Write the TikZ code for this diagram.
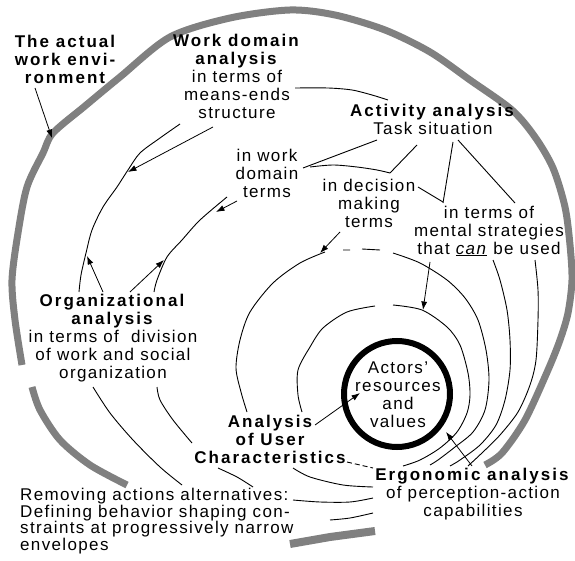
\documentclass[tikz,border=0pt]{standalone}
\usepackage{fontspec}
\setmainfont{Liberation Sans}[LetterSpace=8, BoldFeatures={LetterSpace=12}]
\usepackage{tikz}
\usetikzlibrary{arrows.meta}
\definecolor{rimgray}{RGB}{128,128,128}
\tikzset{
  lbl/.style={align=center, inner sep=1pt, font=\fontsize{17}{18}\selectfont},
  ttl/.style={lbl, font=\fontsize{17}{18}\selectfont\bfseries},
  spiral/.style={line width=0.9pt, line join=round},
  rim/.style={line width=7pt, rimgray, line join=round},
  pointer/.style={line width=0.8pt, -{Latex[length=8.5pt,width=6pt]}},
}

\begin{document}
\begin{tikzpicture}[x=1pt,y=-1pt]
  \useasboundingbox (0,0) rectangle (575,561);

  % outer gray envelope
  \draw[rim] plot[smooth, tension=0.5] coordinates {(22,365) (15,320) (12,280)
    (18,233) (27,187) (43,153) (53,133) (85,106) (120,77) (170,37) (230,18)
    (290,10) (335,15) (385,30) (430,52) (470,80) (512,110) (535,137) (553,168)
    (565,207) (570,245) (572,280) (568,313) (560,340) (548,370) (525,420)
    (502,453) (485,465)};
  \draw[rim] plot[smooth, tension=0.5] coordinates {(32,387) (40,410) (60,440)
    (90,465) (127,485)};
  \draw[rim, line width=8pt] (290,544) -- (330,537) -- (375,531);

  % actors' resources
  \draw[line width=6pt] (397,394) circle[radius=53pt];

  % envelopes, outer to inner
  \draw[spiral] plot[smooth] coordinates {(180,124) (160,138) (140,153)
    (128,170) (117,187) (103,207) (92,230) (86,253) (81,275) (79,292)};
  \draw[spiral] plot[smooth] coordinates {(93,387) (110,413) (133,440)
    (160,467) (182,485)};
  \draw[spiral] plot[smooth] coordinates {(227,197) (200,220) (182,240)
    (167,257) (157,280) (154,292)};
  \draw[spiral] plot[smooth] coordinates {(157,387) (160,400) (173,420)
    (192,443)};
  \draw[spiral] plot[smooth] coordinates {(247,412) (241,392) (236,368)
    (240,340) (250,312) (273,283) (300,263) (325,252)};
  \draw[spiral] (343,250) -- (350,250) (362,249) -- (380,250);
  \draw[spiral] plot[smooth] coordinates {(393,253) (420,263) (447,280)
    (465,298) (478,320) (486,350) (489,380) (485,410) (473,432) (455,447)
    (438,460) (430,465)};
  \draw[spiral] plot[smooth] coordinates {(302,412) (298,395) (298,370)
    (310,347) (323,328) (347,312) (375,306)};
  \draw[spiral] plot[smooth] coordinates {(393,305) (422,310) (447,327)
    (460,345) (468,373) (470,395) (467,413) (457,432) (440,448) (420,460)
    (403,466)};
  \draw[spiral] plot[smooth] coordinates {(493,260) (500,280) (507,310)
    (510,340) (510,370) (505,400) (496,425) (480,445) (460,460) (450,466)};
  \draw[spiral] plot[smooth] coordinates {(535,260) (538,290) (538,320)
    (536,360) (530,385) (518,412) (500,435) (483,452) (468,466)};
  \draw[spiral, dash pattern=on 5pt off 3pt] (347,462) -- (373,468);
  \draw[spiral] plot[smooth] coordinates {(218,468) (237,477) (253,487)};
  \draw[spiral] plot[smooth] coordinates {(293,468) (310,477) (343,485)
    (373,487)};
  \draw[spiral] plot[smooth] coordinates {(293,500) (320,502) (350,502)
    (373,498)};
  \draw[spiral] plot[smooth] coordinates {(330,520) (350,518) (373,513)};

  % links between the analyses
  \draw[spiral] plot[smooth] coordinates {(295,88) (328,88) (352,90)
    (372,95) (388,100)};
  \draw[spiral] (377,140) -- (303,168);
  \draw[spiral] plot[smooth] coordinates {(310,167) (333,165) (357,167)
    (377,170) (390,173)};
  \draw[spiral] (417,145) -- (390,173);
  \draw[spiral] (418,187) -- (443,202);
  \draw[spiral] (453,142) -- (443,203);
  \draw[spiral] (458,140) -- (515,203);

  % pointers
  \coordinate (tail-env) at (35,88);
  \coordinate (head-env) at (52,138);
  \coordinate (tail-wda) at (213,127);
  \coordinate (head-wda) at (128,172);
  \coordinate (tail-orgA) at (103,292);
  \coordinate (head-orgA) at (87,256);
  \coordinate (tail-orgB) at (130,292);
  \coordinate (head-orgB) at (164,260);
  \coordinate (tail-wdt) at (237,201);
  \coordinate (head-wdt) at (216,212);
  \coordinate (tail-dmt) at (340,232);
  \coordinate (head-dmt) at (320,253);
  \coordinate (tail-mst) at (430,262);
  \coordinate (head-mst) at (423,310);
  \coordinate (tail-uca) at (315,425);
  \coordinate (head-uca) at (360,393);
  \coordinate (tail-ergo) at (472,466);
  \coordinate (head-ergo) at (446,432);
  \foreach \n in {env,wda,orgA,orgB,wdt,dmt,mst,uca,ergo}
    \draw[pointer] (tail-\n) -- (head-\n);

  % labels
  \node[ttl] (env) at (65,59) {The actual\\work envi-\\ronment};
  \node[lbl] (wda) at (237,76) {\textbf{Work domain}\\\textbf{analysis}\\in terms of\\means-ends\\structure};
  \node[lbl] (act) at (433,119) {\textbf{Activity analysis}\\Task situation};
  \node[lbl] (wdt) at (267,173) {in work\\domain\\terms};
  \node[lbl] (dmt) at (369,203) {in decision\\making\\terms};
  \node[lbl] (mst) at (489,231) {in terms of\\mental strategies\\that \underline{\textit{can}} be used};
  \node[lbl] (org) at (113,338) {\textbf{Organizational}\\\textbf{analysis}\\in terms of\ \ division\\of work and social\\organization};
  \node[ttl] (uca) at (270,439) {Analysis\\of User\\Characteristics};
  \node[lbl] (ergo) at (473,494) {\textbf{Ergonomic analysis}\\of perception-action\\capabilities};
  \node[lbl, align=left, anchor=west, font=\fontsize{17}{16.7}\selectfont] (rem) at (19,521)
    {Removing actions alternatives:\\Defining behavior shaping con-\\straints at progressively narrow\\envelopes};
  \node[lbl] (actors) at (398,395) {Actors'\\resources\\and\\values};
\end{tikzpicture}
\end{document}
